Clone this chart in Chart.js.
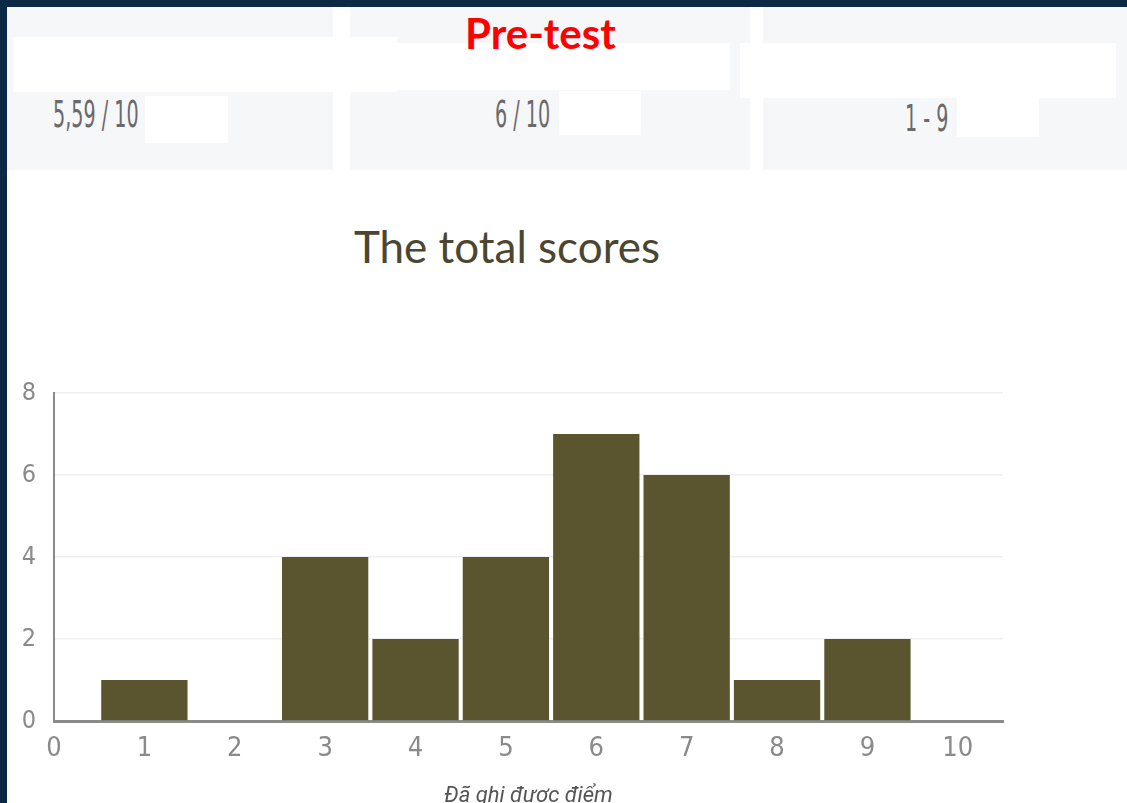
<!DOCTYPE html>
<html>
<head>
<meta charset="utf-8">
<script src="https://cdn.jsdelivr.net/npm/chart.js@4"></script>
<style>
  html, body { margin: 0; padding: 0; }
  body { width: 1127px; height: 803px; overflow: hidden; background: #fff; position: relative; font-family: Lato, "Open Sans", sans-serif; }
  .frame-top { position: absolute; left: 0; top: 0; width: 1127px; height: 7px; background: #0b2945; }
  .frame-left { position: absolute; left: 0; top: 0; width: 7px; height: 803px; background: #0b2945; }
  .card { position: absolute; top: 7px; height: 163px; background: #f6f7f9; }
  .blank { position: absolute; background: #fff; }
  .stat { position: absolute; color: #6a6a6a; font-family: "Liberation Sans Narrow", "DejaVu Sans Condensed", sans-serif; font-size: 28px; white-space: nowrap; transform: scale(0.76, 1.35); transform-origin: left top; }
  #pretest { position: absolute; left: 465px; top: 8px; color: #ff0000; font-weight: bold; font-size: 42px; font-family: Lato, sans-serif; }
  #title { position: absolute; left: 0; width: 1014px; top: 220px; text-align: center; color: #4b4630; font-size: 44px; font-family: Lato, sans-serif; }
  #wrap { position: absolute; left: 8px; top: 360px; width: 1119px; height: 450px; }
</style>
</head>
<body>
<div class="frame-top"></div>
<div class="frame-left"></div>

<div class="card" style="left:7px;width:326px"></div>
<div class="card" style="left:350px;width:400px"></div>
<div class="card" style="left:763px;width:364px"></div>

<div class="blank" style="left:13px;top:37px;width:384px;height:55px"></div>
<div class="blank" style="left:397px;top:43px;width:333px;height:47px"></div>
<div class="blank" style="left:740px;top:43px;width:376px;height:55px"></div>

<div class="stat" id="s1" style="left:53px;top:92px">5,59 / 10</div>
<div class="stat" id="s2" style="left:495px;top:92px">6 / 10</div>
<div class="stat" id="s3" style="left:905px;top:96px">1 - 9</div>

<div class="blank" style="left:145px;top:96px;width:83px;height:47px"></div>
<div class="blank" style="left:559px;top:91px;width:82px;height:44px"></div>
<div class="blank" style="left:957px;top:98px;width:82px;height:39px"></div>

<div id="pretest">Pre-test</div>
<div id="title">The total scores</div>

<div id="wrap"><canvas id="scoreChart"></canvas></div>

<script>
// score values (x) and how many students got each
const scores = [1, 2, 3, 4, 5, 6, 7, 8, 9, 10];
const counts = [1, 0, 4, 2, 4, 7, 6, 1, 2, 0];
const xTicks = [0, 1, 2, 3, 4, 5, 6, 7, 8, 9, 10];
const yTicks = [0, 2, 4, 6, 8];
const xTitle = 'Đã ghi được điểm';

const tickFamily = "'Liberation Sans Narrow', 'DejaVu Sans Condensed', sans-serif";

const ctx = document.getElementById('scoreChart').getContext('2d');
const scoreChart = new Chart(ctx, {
    type: 'bar',
    data: {
        datasets: [{
            data: scores.map((s, i) => ({ x: s, y: counts[i] })),
            backgroundColor: '#5a552e',
            borderWidth: 0,
            barPercentage: 0.955,
            categoryPercentage: 1.0
        }]
    },
    options: {
        responsive: true,
        maintainAspectRatio: false,
        animation: false,
        layout: { padding: { left: 0, right: 124, top: 32, bottom: 0 } },
        plugins: {
            legend: { display: false },
            tooltip: { enabled: false }
        },
        scales: {
            x: {
                type: 'linear',
                offset: false,
                min: 0,
                max: 10.5,
                afterBuildTicks: scale => { scale.ticks = xTicks.map(v => ({ value: v })); },
                grid: { display: false, offset: false, drawTicks: false },
                border: { display: true, color: '#8a8a8a', width: 3 },
                ticks: {
                    color: '#8a8a8a',
                    font: { family: tickFamily, size: 27 },
                    padding: 12,
                    maxRotation: 0,
                    autoSkip: false
                },
                title: {
                    display: true,
                    text: xTitle,
                    color: '#555',
                    font: { family: "Roboto, 'Liberation Sans', sans-serif", size: 22, style: 'italic' },
                    padding: { top: 4, bottom: 0 }
                },
                afterFit: scale => { scale.height = 89; }
            },
            y: {
                min: 0,
                max: 8,
                afterBuildTicks: scale => { scale.ticks = yTicks.map(v => ({ value: v })); },
                grid: { color: '#efefef', lineWidth: 1.5, drawTicks: false },
                border: { display: true, color: '#8a8a8a', width: 2 },
                ticks: { color: '#8a8a8a', font: { family: tickFamily, size: 25 }, padding: 18 },
                afterFit: scale => { scale.width = 46; }
            }
        }
    }
});
</script>
</body>
</html>
